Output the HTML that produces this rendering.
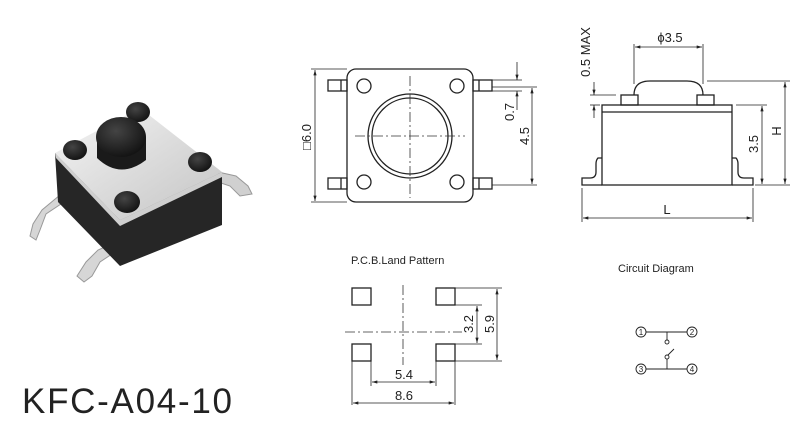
<!DOCTYPE html>
<html><head><meta charset="utf-8"><style>
html,body{margin:0;padding:0;background:#fff;}
svg{display:block;font-family:"Liberation Sans",Arial,sans-serif;}
</style></head><body>
<svg width="800" height="423" viewBox="0 0 800 423" xmlns="http://www.w3.org/2000/svg">
<defs>
<marker id="a" viewBox="0 0 10 6" refX="10" refY="3" markerWidth="7" markerHeight="4" orient="auto-start-reverse"><path d="M0,0L10,3L0,6z" fill="#222"/></marker>
<linearGradient id="top" x1="0" y1="0" x2="1" y2="1"><stop offset="0" stop-color="#f6f6f6"/><stop offset="0.5" stop-color="#dcdcdc"/><stop offset="1" stop-color="#c4c4c4"/></linearGradient>
<radialGradient id="blk" cx="0.4" cy="0.35" r="0.7"><stop offset="0" stop-color="#444"/><stop offset="1" stop-color="#111"/></radialGradient>
</defs>

<!-- photo -->
<g>
 <path d="M60,195 L64,202 L46,214 L40,230 L36,240 L30,236 L33,224 L42,210 Z" fill="#d6d6d6" stroke="#999" stroke-width="1"/>
 <path d="M114,243 L118,250 L100,262 L92,276 L84,282 L77,276 L86,262 L98,250 Z" fill="#d6d6d6" stroke="#999" stroke-width="1"/>
 <path d="M218,172 L236,176 L248,186 L252,194 L240,196 L230,186 L218,182 Z" fill="#d0d0d0" stroke="#999" stroke-width="1"/>
 <path d="M55,153 L120,220 L222,172 L222,225 L120,266 L58,202 Z" fill="#262626"/>
 <path d="M55,153 L140,108 L222,172 L120,220 Z" fill="url(#top)"/>
 <path d="M55,153 L120,220 L222,172 L222,177 L120,226 L56,158 Z" fill="#cfcfcf"/>
 <ellipse cx="138" cy="112" rx="12" ry="10" fill="url(#blk)"/>
 <ellipse cx="75" cy="150" rx="12" ry="10" fill="url(#blk)"/>
 <ellipse cx="200" cy="162" rx="12" ry="10" fill="url(#blk)"/>
 <ellipse cx="127" cy="202" rx="13" ry="11" fill="url(#blk)"/>
 <path d="M97,137 L97,158 Q120,180 146,160 L146,137 Z" fill="#1a1a1a"/>
 <ellipse cx="121" cy="137" rx="25" ry="20" fill="url(#blk)"/>
</g>
<text x="22" y="413" font-size="35" textLength="210" fill="#222">KFC-A04-10</text>

<!-- top view -->
<g fill="none" stroke="#222" stroke-width="1.3">
 <rect x="347" y="69" width="126" height="133" rx="9"/>
 <rect x="328" y="80" width="19" height="11"/><line x1="341" y1="80" x2="341" y2="91"/>
 <rect x="328" y="178" width="19" height="11"/><line x1="341" y1="178" x2="341" y2="189"/>
 <rect x="473" y="80" width="19" height="11"/><line x1="479" y1="80" x2="479" y2="91"/>
 <rect x="473" y="178" width="19" height="11"/><line x1="479" y1="178" x2="479" y2="189"/>
 <circle cx="410" cy="136" r="42"/><circle cx="410" cy="136" r="38"/>
 <circle cx="364" cy="86" r="7"/><circle cx="457" cy="86" r="7"/>
 <circle cx="364" cy="182" r="7"/><circle cx="457" cy="182" r="7"/>
</g>
<g stroke="#333" stroke-width="0.8" fill="none" stroke-dasharray="10,3,2,3">
 <line x1="410" y1="76" x2="410" y2="198"/><line x1="355" y1="136" x2="465" y2="136"/>
</g>
<g stroke="#222" stroke-width="0.8" fill="none">
 <line x1="311" y1="69" x2="347" y2="69"/><line x1="311" y1="202" x2="347" y2="202"/>
 <line x1="315" y1="70" x2="315" y2="201" marker-start="url(#a)" marker-end="url(#a)"/>
 <line x1="492" y1="80" x2="522" y2="80"/><line x1="492" y1="91" x2="522" y2="91"/>
 <line x1="517" y1="62" x2="517" y2="80" marker-end="url(#a)"/>
 <line x1="517" y1="91" x2="517" y2="110" marker-start="url(#a)"/>
 <line x1="492" y1="87" x2="537" y2="87"/><line x1="492" y1="185" x2="537" y2="185"/>
 <line x1="532" y1="88" x2="532" y2="184" marker-start="url(#a)" marker-end="url(#a)"/>
</g>
<g font-size="13" fill="#222">
 <text transform="translate(311,137) rotate(-90)" text-anchor="middle">□6.0</text>
 <text transform="translate(514,112) rotate(-90)" text-anchor="middle">0.7</text>
 <text transform="translate(529,136) rotate(-90)" text-anchor="middle">4.5</text>
</g>

<!-- side view -->
<g fill="none" stroke="#222" stroke-width="1.3">
 <path d="M634,95 Q634,81 650,81 L687,81 Q703,81 703,95"/>
 <rect x="621" y="95" width="17" height="10"/><rect x="697" y="95" width="17" height="10"/>
 <rect x="602" y="105" width="130" height="80"/><line x1="602" y1="112" x2="732" y2="112"/>
 <path d="M602,158 L598,158 Q596,160 596,164 L596,172 Q596,178 590,178 L582,178 L582,185 L602,185"/>
 <path d="M732,158 L736,158 Q738,160 738,164 L738,172 Q738,178 744,178 L753,178 L753,185 L732,185"/>
</g>
<g stroke="#222" stroke-width="0.8" fill="none">
 <line x1="634" y1="44" x2="634" y2="84"/><line x1="703" y1="44" x2="703" y2="84"/>
 <line x1="635" y1="47" x2="702" y2="47" marker-start="url(#a)" marker-end="url(#a)"/>
 <line x1="590" y1="95" x2="616" y2="95"/><line x1="590" y1="105" x2="600" y2="105"/>
 <line x1="594" y1="82" x2="594" y2="95" marker-end="url(#a)"/>
 <line x1="594" y1="105" x2="594" y2="118" marker-start="url(#a)"/>
 <line x1="707" y1="81" x2="790" y2="81"/><line x1="736" y1="105" x2="767" y2="105"/>
 <line x1="755" y1="185" x2="790" y2="185"/>
 <line x1="785" y1="82" x2="785" y2="184" marker-start="url(#a)" marker-end="url(#a)"/>
 <line x1="762" y1="106" x2="762" y2="184" marker-start="url(#a)" marker-end="url(#a)"/>
 <line x1="582" y1="188" x2="582" y2="222"/><line x1="753" y1="188" x2="753" y2="222"/>
 <line x1="583" y1="218" x2="752" y2="218" marker-start="url(#a)" marker-end="url(#a)"/>
</g>
<g font-size="13" fill="#222">
 <text x="670" y="42" text-anchor="middle">ϕ3.5</text>
 <text transform="translate(590,52) rotate(-90)" text-anchor="middle">0.5 MAX</text>
 <text transform="translate(781,131) rotate(-90)" text-anchor="middle">H</text>
 <text transform="translate(758,144) rotate(-90)" text-anchor="middle">3.5</text>
 <text x="667" y="214" text-anchor="middle">L</text>
</g>

<!-- PCB land -->
<text x="351" y="264" font-size="11" fill="#222">P.C.B.Land Pattern</text>
<g fill="none" stroke="#222" stroke-width="1.3">
 <rect x="352" y="288" width="19" height="17"/><rect x="436" y="288" width="19" height="17"/>
 <rect x="352" y="344" width="19" height="17"/><rect x="436" y="344" width="19" height="17"/>
</g>
<g stroke="#333" stroke-width="0.8" fill="none" stroke-dasharray="10,3,2,3">
 <line x1="403" y1="285" x2="403" y2="365"/><line x1="345" y1="332" x2="462" y2="332"/>
</g>
<g stroke="#222" stroke-width="0.8" fill="none">
 <line x1="455" y1="288" x2="502" y2="288"/><line x1="455" y1="361" x2="502" y2="361"/>
 <line x1="455" y1="305" x2="482" y2="305"/><line x1="455" y1="344" x2="482" y2="344"/>
 <line x1="477" y1="306" x2="477" y2="343" marker-start="url(#a)" marker-end="url(#a)"/>
 <line x1="497" y1="289" x2="497" y2="360" marker-start="url(#a)" marker-end="url(#a)"/>
 <line x1="371" y1="361" x2="371" y2="386"/><line x1="436" y1="361" x2="436" y2="386"/>
 <line x1="352" y1="361" x2="352" y2="405"/><line x1="455" y1="361" x2="455" y2="405"/>
 <line x1="372" y1="382" x2="435" y2="382" marker-start="url(#a)" marker-end="url(#a)"/>
 <line x1="353" y1="403" x2="454" y2="403" marker-start="url(#a)" marker-end="url(#a)"/>
</g>
<g font-size="13" fill="#222">
 <text transform="translate(473,324) rotate(-90)" text-anchor="middle">3.2</text>
 <text transform="translate(494,324) rotate(-90)" text-anchor="middle">5.9</text>
 <text x="404" y="379" text-anchor="middle">5.4</text>
 <text x="404" y="400" text-anchor="middle">8.6</text>
</g>

<!-- circuit -->
<text x="618" y="272" font-size="11" fill="#222">Circuit Diagram</text>
<g stroke="#222" stroke-width="0.9" fill="none">
 <line x1="646" y1="332" x2="687" y2="332"/><line x1="646" y1="369" x2="687" y2="369"/>
 <line x1="667" y1="332" x2="667" y2="340"/><circle cx="667" cy="342" r="2"/>
 <circle cx="667" cy="357" r="2"/><line x1="667" y1="359" x2="667" y2="369"/>
 <line x1="668" y1="355" x2="674" y2="349"/>
 <circle cx="641" cy="332" r="5"/><circle cx="692" cy="332" r="5"/>
 <circle cx="641" cy="369" r="5"/><circle cx="692" cy="369" r="5"/>
</g>
<g font-size="8" fill="#222" text-anchor="middle">
 <text x="641" y="335">1</text><text x="692" y="335">2</text>
 <text x="641" y="372">3</text><text x="692" y="372">4</text>
</g>
</svg>
</body></html>
